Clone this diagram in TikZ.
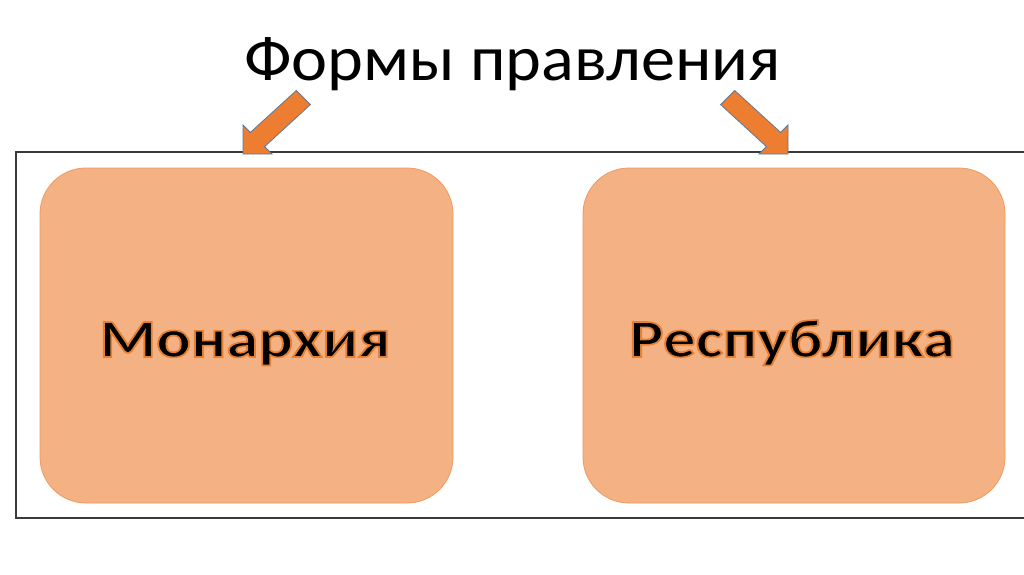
\documentclass[tikz,border=0pt]{standalone}
\usepackage{fontspec}
\setmainfont{Carlito}
\definecolor{boxfill}{HTML}{F4B183}
\definecolor{boxline}{HTML}{EE9A62}
\definecolor{arrowfill}{HTML}{ED7D31}
\definecolor{arrowline}{HTML}{5B7A99}
\definecolor{framec}{HTML}{3A3A3A}
\newcommand{\glowtxt}[1]{\special{pdf:literal 2 Tr 1.6 w 0.90 0.50 0.20 RG}#1\special{pdf:literal 0 Tr}}
\tikzset{
  roundbox/.style={draw=boxline, line width=0.8pt, fill=boxfill, rounded corners=46pt},
  blockarrow/.style={draw=arrowline, line width=0.8pt, fill=arrowfill, line join=miter},
  frameline/.style={draw=framec, line width=1.3pt},
  titletext/.style={font=\fontsize{64}{64}\selectfont, text=black, inner sep=0pt, anchor=base, xscale=1.066},
  boxtext/.style={font=\fontsize{54}{54}\selectfont\bfseries, text=black, inner sep=0pt, anchor=base, xscale=1.2}
}
\begin{document}
\begin{tikzpicture}[x=1pt,y=-1pt]
\useasboundingbox (0,0) rectangle (1024,574);
\fill[white] (0,0) rectangle (1024,574);
% frame
\draw[frameline] (1030,152) -- (16,152) -- (16,518) -- (1030,518);
% boxes
\path[roundbox] (40,168) rectangle (453,503);
\path[roundbox] (583,168) rectangle (1005,503);
\node[boxtext] (mon) at (245,357) {\glowtxt{Монархия}};
\node[boxtext] (rep) at (792,357) {\glowtxt{Республика}};
% title
\node[titletext] (title) at (512.5,80) {Формы правления};
% arrows
\path[blockarrow] (296.3,90.5) -- (310.4,104.6) -- (264.6,146.6) -- (272,154) -- (243,154) -- (243,125) -- (250.4,132.4) -- cycle;
\path[blockarrow] (734.7,90.5) -- (720.6,104.6) -- (766.4,146.6) -- (759,154) -- (788,154) -- (788,125) -- (780.6,132.4) -- cycle;
\end{tikzpicture}
\end{document}
